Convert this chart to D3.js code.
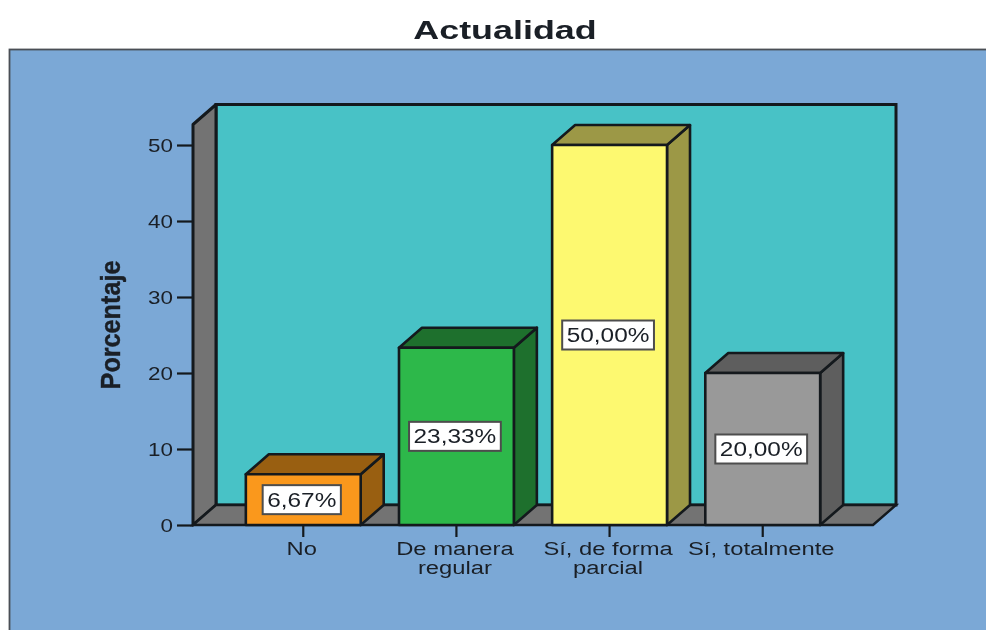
<!DOCTYPE html>
<html>
<head>
<meta charset="utf-8">
<script src="https://cdn.jsdelivr.net/npm/d3@7"></script>
<style>
html,body{margin:0;padding:0;background:#fff;overflow:hidden}
svg{display:block;filter:blur(0.4px)}
text{font-family:"Liberation Sans",Arial,sans-serif;fill:#1a1f26}
</style>
</head>
<body>
<svg id="c" width="986" height="630"></svg>
<script>
const title = "Actualidad";
const yLabel = "Porcentaje";
const categories = ["No", "De manera regular", "Sí, de forma parcial", "Sí, totalmente"];
const categoryLines = [["No"], ["De manera", "regular"], ["Sí, de forma", "parcial"], ["Sí, totalmente"]];
const values = [6.67, 23.33, 50.0, 20.0];
const valueLabels = ["6,67%", "23,33%", "50,00%", "20,00%"];
const yTicks = [0, 10, 20, 30, 40, 50];
const frontColors = ["#fa981c", "#2db84a", "#fdf970", "#999999"];
const sideColors = ["#995f11", "#1e702d", "#9c9846", "#5e5e5e"];

const W = 986, H = 630;
const stroke = "#14191d";
const dx = 23, dy = -20;
const left = 193, right = 873, y0 = 525, yTop = 124.5;

const svg = d3.select("#c");
const x = d3.scaleBand().domain(categories).range([left, right]).paddingInner(0.25).paddingOuter(0.345);
const y = d3.scaleLinear().domain([0, 52.7]).range([y0, yTop]);
const line = d3.line();

function stretch(sel, f) {
  sel.each(function () {
    const w = this.getComputedTextLength();
    d3.select(this).attr("textLength", w * f).attr("lengthAdjust", "spacingAndGlyphs");
  });
}

// Panel
svg.append("rect").attr("x", 9.5).attr("y", 49.5).attr("width", W + 10).attr("height", H + 10)
  .attr("fill", "#7ba8d6").attr("stroke", "#4a4f55").attr("stroke-width", 1.8);

// Title
svg.append("text").attr("x", 505).attr("y", 39).attr("text-anchor", "middle")
  .attr("font-size", 26).attr("font-weight", "bold").text(title).call(stretch, 1.38);

const box = line([[left + dx, yTop + dy], [right + dx, yTop + dy], [right + dx, y0 + dy], [left + dx, y0 + dy]]) + "Z";
svg.append("path").attr("d", box).attr("fill", "#48c2c6").attr("stroke", stroke).attr("stroke-width", 3);

const wall = line([[left, y0], [left, yTop], [left + dx, yTop + dy], [left + dx, y0 + dy]]) + "Z";
svg.append("path").attr("d", wall).attr("fill", "#737373").attr("stroke", stroke).attr("stroke-width", 3).attr("stroke-linejoin", "round");

const floor = line([[left, y0], [right, y0], [right + dx, y0 + dy], [left + dx, y0 + dy]]) + "Z";
svg.append("path").attr("d", floor).attr("fill", "#737373").attr("stroke", stroke).attr("stroke-width", 2.4);

// Bars
const bars = svg.selectAll("g.bar").data(categories).join("g").attr("class", "bar");
bars.each(function (c, i) {
  const g = d3.select(this);
  const xa = x(c), xb = xa + x.bandwidth(), top = y(values[i]);
  const add = (pts, fill) => g.append("path").attr("d", line(pts) + "Z").attr("fill", fill)
    .attr("stroke", stroke).attr("stroke-width", 2.6).attr("stroke-linejoin", "round");
  add([[xb, y0], [xb, top], [xb + dx, top + dy], [xb + dx, y0 + dy]], sideColors[i]);
  add([[xa, top], [xb, top], [xb + dx, top + dy], [xa + dx, top + dy]], sideColors[i]);
  add([[xa, y0], [xa, top], [xb, top], [xb, y0]], frontColors[i]);

  const cx = (xa + xb) / 2 - 1.5, cy = y(values[i] / 2);
  const t = g.append("text").attr("x", cx).attr("y", cy + 7).attr("text-anchor", "middle")
    .attr("font-size", 20).text(valueLabels[i]).call(stretch, 1.22);
  const tw = +t.attr("textLength");
  g.insert("rect", "text").attr("x", cx - tw / 2 - 4.5).attr("y", cy - 14.5)
    .attr("width", tw + 9).attr("height", 29).attr("fill", "#fff")
    .attr("stroke", "#4d4d4d").attr("stroke-width", 2);
});

// Axes
const yAxis = svg.append("g").attr("transform", `translate(${left},0)`)
  .call(d3.axisLeft(y).tickValues(yTicks).tickSize(16).tickPadding(4).tickFormat(d3.format("d")));
yAxis.select(".domain").remove();
yAxis.selectAll("line").attr("stroke", stroke).attr("stroke-width", 2.2);
yAxis.selectAll("text").attr("font-size", 19).attr("dy", "0.36em").attr("fill", "#1a1f26").attr("font-family", '"Liberation Sans"').call(stretch, 1.18);

const xAxis = svg.append("g").attr("transform", `translate(0,${y0})`)
  .call(d3.axisBottom(x).tickSize(12).tickPadding(4).tickFormat(""));
xAxis.select(".domain").remove();
xAxis.selectAll("line").attr("stroke", stroke).attr("stroke-width", 2.2);
xAxis.selectAll(".tick").each(function (c, i) {
  const tick = d3.select(this);
  tick.select("text").remove();
  categoryLines[i].forEach((l, j) => {
    tick.append("text").attr("x", -1.5).attr("y", 30 + j * 18.5).attr("text-anchor", "middle")
      .attr("font-size", 18).attr("fill", "#1a1f26").attr("font-family", '"Liberation Sans"')
      .text(l).call(stretch, 1.32);
  });
});

// Y title
svg.append("text").attr("transform", "translate(120,325) rotate(-90)").attr("text-anchor", "middle")
  .attr("font-size", 28).attr("font-weight", "bold").attr("stroke", "#1a1f26").attr("stroke-width", 0.4)
  .text(yLabel).call(stretch, 0.9);
</script>
</body>
</html>
